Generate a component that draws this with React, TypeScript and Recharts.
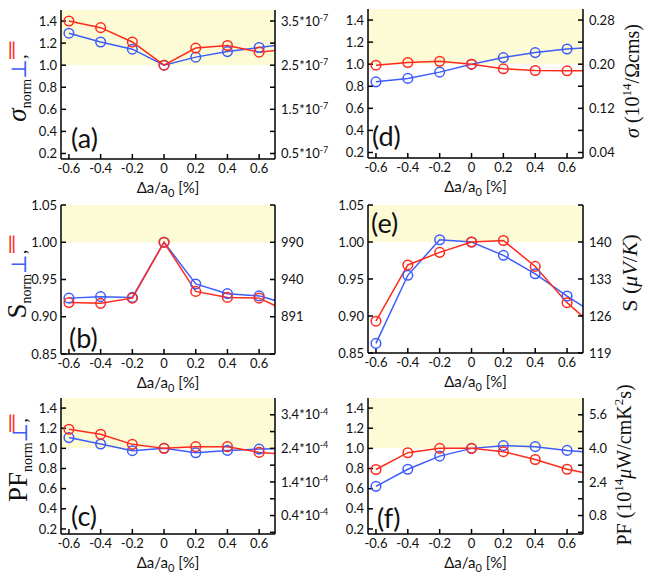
import React from 'react';
import { LineChart, Line, XAxis, YAxis, ReferenceArea } from 'recharts';

// strain points (last one sits just outside the visible range, line runs to the edge)
const strain = [-0.6, -0.4, -0.2, 0, 0.2, 0.4, 0.6, 0.8];
const strainTicks = [-0.6, -0.4, -0.2, 0, 0.2, 0.4, 0.6];

const sigmaParA = [1.4, 1.34, 1.21, 1.0, 1.155, 1.178, 1.118, 1.146];
const sigmaPerpA = [1.29, 1.21, 1.145, 1.0, 1.073, 1.123, 1.16, 1.196];
const sigmaParD = [0.991, 1.015, 1.027, 1.0, 0.958, 0.943, 0.94, 0.94];
const sigmaPerpD = [0.84, 0.871, 0.928, 1.0, 1.06, 1.105, 1.138, 1.157];

const seebeckParB = [0.919, 0.918, 0.925, 1.0, 0.934, 0.926, 0.925, 0.905];
const seebeckPerpB = [0.925, 0.927, 0.926, 1.0, 0.944, 0.931, 0.928, 0.916];
const seebeckParE = [0.893, 0.969, 0.986, 1.0, 1.002, 0.967, 0.918, 0.88];
const seebeckPerpE = [0.863, 0.955, 1.003, 1.0, 0.982, 0.957, 0.927, 0.899];

const pfParC = [1.19, 1.14, 1.04, 1.0, 1.017, 1.017, 0.96, 0.94];
const pfPerpC = [1.107, 1.043, 0.977, 1.0, 0.957, 0.98, 0.993, 1.0];
const pfParF = [0.79, 0.957, 1.0, 1.0, 0.967, 0.89, 0.793, 0.73];
const pfPerpF = [0.623, 0.793, 0.923, 1.0, 1.027, 1.017, 0.98, 0.953];

const normTicks = [0.2, 0.4, 0.6, 0.8, 1.0, 1.2, 1.4];
const seebeckTicks = [0.85, 0.9, 0.95, 1.0, 1.05];
const pfRightTicks = [1 / 6, 1 / 3, 0.5, 2 / 3, 5 / 6, 1, 7 / 6, 4 / 3];

const sigmaRightLabelsA = ['0.5', '', '1.5', '', '2.5', '', '3.5'];
const sigmaRightLabelsD = ['0.04', '', '0.12', '', '0.20', '', '0.28'];
const seebeckRightLabelsB = ['', '891', '940', '990', ''];
const seebeckRightLabelsE = ['119', '126', '133', '140', ''];
const pfRightLabelsC = ['', '0.4', '', '1.4', '', '2.4', '', '3.4'];
const pfRightLabelsF = ['', '0.8', '', '2.4', '', '4.0', '', '5.6'];

const RED = '#ff2a1c';
const BLUE = '#3d5cfa';
const SHADE = '#fcfbd6';
const SANS = 'Lato, "DejaVu Sans", sans-serif';
const SERIF = '"Liberation Serif", "DejaVu Serif", serif';

const YL = 50;
const YR = 60;
const XB = 40;
const MT = 10;

function RightTick(props: any) {
  const { x, y, payload, ticks, labels, exp } = props;
  const i = ticks.findIndex((t: number) => Math.abs(t - payload.value) < 1e-6);
  const txt = labels[i];
  if (!txt) return null;
  return (
    <text x={x} y={y} dy="0.36em" textAnchor="start" fontSize={13} fill="#111" fontFamily={SANS}>
      {txt}
      {exp ? (
        <>
          <tspan>*10</tspan>
          <tspan dy="-0.55em" fontSize={9}>{exp}</tspan>
        </>
      ) : null}
    </text>
  );
}

type PanelProps = {
  left: number;
  top: number;
  w: number;
  h: number;
  par: number[];
  perp: number[];
  yDomain: [number, number];
  yTicks: number[];
  yDigits: number;
  rTicks: number[];
  rLabels: string[];
  rExp?: string;
  tag: string;
  tagX: number;
  tagY: number;
};

function Panel(p: PanelProps) {
  const data = strain.map((x, i) => ({ x, par: p.par[i], perp: p.perp[i] }));
  const axisLine = { stroke: '#000', strokeWidth: 1.5 };
  const tickLine = { stroke: '#000', strokeWidth: 1.5 };
  const tickStyle = { fontSize: 13, fill: '#111', fontFamily: SANS };
  return (
    <>
      <div style={{ position: 'absolute', left: p.left - YL, top: p.top - MT }}>
        <LineChart
          width={YL + p.w + YR}
          height={MT + p.h + XB}
          data={data}
          margin={{ top: MT, right: 0, bottom: 0, left: 0 }}
        >
          <XAxis
            dataKey="x"
            type="number"
            domain={[-0.65, 0.7]}
            ticks={strainTicks}
            interval={0}
            allowDataOverflow
            height={XB}
            tickSize={-5}
            tickMargin={10}
            axisLine={axisLine}
            tickLine={tickLine}
            tick={tickStyle}
            tickFormatter={(v: number) => (v === 0 ? '0' : v.toFixed(1))}
          />
          <XAxis
            xAxisId="top"
            orientation="top"
            dataKey="x"
            type="number"
            domain={[-0.65, 0.7]}
            ticks={strainTicks}
            interval={0}
            allowDataOverflow
            height={0}
            tickSize={-5}
            axisLine={axisLine}
            tickLine={tickLine}
            tickFormatter={() => ''}
          />
          <YAxis
            type="number"
            domain={p.yDomain}
            ticks={p.yTicks}
            interval={0}
            allowDataOverflow
            width={YL}
            tickSize={-5}
            tickMargin={9}
            axisLine={axisLine}
            tickLine={tickLine}
            tick={tickStyle}
            tickFormatter={(v: number) => v.toFixed(p.yDigits)}
          />
          <YAxis
            yAxisId="r"
            orientation="right"
            type="number"
            domain={p.yDomain}
            ticks={p.rTicks}
            interval={0}
            allowDataOverflow
            width={YR}
            tickSize={-5}
            tickMargin={11}
            axisLine={axisLine}
            tickLine={tickLine}
            tick={(tp: any) => <RightTick {...tp} ticks={p.rTicks} labels={p.rLabels} exp={p.rExp} />}
          />
          <ReferenceArea y1={1} y2={p.yDomain[1]} fill={SHADE} fillOpacity={1} stroke="none" />
          <Line
            dataKey="perp"
            stroke={BLUE}
            strokeWidth={1.5}
            dot={{ r: 4.8, stroke: BLUE, strokeWidth: 1.5, fill: 'none' }}
            isAnimationActive={false}
          />
          <Line
            dataKey="par"
            stroke={RED}
            strokeWidth={1.5}
            dot={{ r: 4.8, stroke: RED, strokeWidth: 1.5, fill: 'none' }}
            isAnimationActive={false}
          />
        </LineChart>
      </div>
      <div
        style={{
          position: 'absolute',
          left: p.left + p.w / 2,
          top: p.top + p.h + 29,
          transform: 'translate(-50%, -50%)',
          fontFamily: SANS,
          fontSize: 15,
          whiteSpace: 'nowrap',
          color: '#111',
        }}
      >
        Δa/a<sub style={{ fontSize: 11 }}>0</sub> [%]
      </div>
      <div
        style={{
          position: 'absolute',
          left: p.tagX,
          top: p.tagY,
          transform: 'translateY(-50%)',
          fontFamily: SANS,
          fontSize: 27,
          color: '#111',
          lineHeight: 1,
        }}
      >
        {p.tag}
      </div>
    </>
  );
}

function LeftTitle({ x, y, main, italic, parX, parY }: { x: number; y: number; main: string; italic?: boolean; parX: number; parY: number }) {
  return (
    <>
      <div
        style={{
          position: 'absolute',
          left: x,
          top: y,
          transform: 'translate(-50%, -50%) rotate(-90deg)',
          whiteSpace: 'nowrap',
          fontFamily: SERIF,
          color: '#111',
          lineHeight: 1,
        }}
      >
        <span style={{ fontSize: 27, fontStyle: italic ? 'italic' : 'normal' }}>{main}</span>
        <sub style={{ fontSize: 14 }}>norm</sub>
        <span style={{ fontSize: 21, color: BLUE }}>⊥</span>
        <span style={{ fontSize: 19 }}>,</span>
      </div>
      <div
        style={{
          position: 'absolute',
          left: parX,
          top: parY,
          transform: 'translate(-50%, -50%)',
          fontFamily: SERIF,
          fontSize: 19,
          color: RED,
          lineHeight: 1,
        }}
      >
        ∥
      </div>
    </>
  );
}

function RightTitle({ x, y, size, children }: { x: number; y: number; size: number; children: React.ReactNode }) {
  return (
    <div
      style={{
        position: 'absolute',
        left: x,
        top: y,
        transform: 'translate(-50%, -50%) rotate(-90deg)',
        whiteSpace: 'nowrap',
        fontFamily: SERIF,
        fontSize: size,
        color: '#111',
        lineHeight: 1,
      }}
    >
      {children}
    </div>
  );
}

export default function App() {
  return (
    <div style={{ position: 'absolute', left: 0, top: 0, width: 648, height: 586, background: '#fff' }}>
      <Panel
        left={61} top={10} w={214} h={149}
        par={sigmaParA} perp={sigmaPerpA}
        yDomain={[0.15, 1.5]} yTicks={normTicks} yDigits={1}
        rTicks={normTicks} rLabels={sigmaRightLabelsA} rExp="-7"
        tag="(a)" tagX={71} tagY={137}
      />
      <Panel
        left={368} top={9} w={215} h={149}
        par={sigmaParD} perp={sigmaPerpD}
        yDomain={[0.15, 1.5]} yTicks={normTicks} yDigits={1}
        rTicks={normTicks} rLabels={sigmaRightLabelsD}
        tag="(d)" tagX={372} tagY={135}
      />
      <Panel
        left={61} top={205} w={214} h={149}
        par={seebeckParB} perp={seebeckPerpB}
        yDomain={[0.85, 1.05]} yTicks={seebeckTicks} yDigits={2}
        rTicks={seebeckTicks} rLabels={seebeckRightLabelsB}
        tag="(b)" tagX={69} tagY={337}
      />
      <Panel
        left={368} top={205} w={215} h={148}
        par={seebeckParE} perp={seebeckPerpE}
        yDomain={[0.85, 1.05]} yTicks={seebeckTicks} yDigits={2}
        rTicks={seebeckTicks} rLabels={seebeckRightLabelsE}
        tag="(e)" tagX={371} tagY={222}
      />
      <Panel
        left={61} top={398} w={214} h={136}
        par={pfParC} perp={pfPerpC}
        yDomain={[0.15, 1.5]} yTicks={normTicks} yDigits={1}
        rTicks={pfRightTicks} rLabels={pfRightLabelsC} rExp="-4"
        tag="(c)" tagX={71} tagY={515}
      />
      <Panel
        left={368} top={398} w={215} h={136}
        par={pfParF} perp={pfPerpF}
        yDomain={[0.15, 1.5]} yTicks={normTicks} yDigits={1}
        rTicks={pfRightTicks} rLabels={pfRightLabelsF}
        tag="(f)" tagX={377} tagY={517}
      />

      <LeftTitle x={19} y={88} main="σ" italic parX={12} parY={50} />
      <LeftTitle x={19} y={284} main="S" parX={12} parY={244} />
      <LeftTitle x={20} y={460} main="PF" parX={12} parY={423} />

      <RightTitle x={631} y={81} size={20}>
        <i>σ</i> (10<sup style={{ fontSize: 13 }}>14</sup>/Ωcms)
      </RightTitle>
      <RightTitle x={630} y={273} size={22}>
        S (<i>μV</i>/<i>K</i>)
      </RightTitle>
      <RightTitle x={623} y={465} size={20}>
        PF (10<sup style={{ fontSize: 13 }}>14</sup><i>μ</i>W/cmK<sup style={{ fontSize: 13 }}>2</sup>s)
      </RightTitle>
    </div>
  );
}
